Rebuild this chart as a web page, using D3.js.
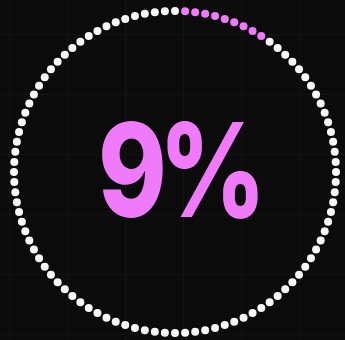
<!DOCTYPE html>
<html>
<head>
<meta charset="utf-8">
<script src="https://cdn.jsdelivr.net/npm/d3@7"></script>
<style>
  html, body { margin: 0; padding: 0; background: #0b0b0b; }
  svg { display: block; }
</style>
</head>
<body>
<svg id="chart" width="345" height="340"></svg>
<script>
// Progress ring: one dot per percent, filled dots show the share.
const percentValue = [9];
const dotCount = [100];
const labelText = ["9%"];

const width = 345, height = 340;
const cx = 175, cy = 172, ringRadius = 161, dotRadius = 4;
const fillColor = "#ef7bfa";
const emptyColor = "#f7f7f7";

const svg = d3.select("#chart");

// background
svg.append("rect").attr("width", width).attr("height", height).attr("fill", "#0b0b0b");

// faint background grid
const gridX = d3.range(9, width, 58);
const gridY = d3.range(34, height, 60);
const grid = svg.append("g").attr("stroke", "#131313").attr("stroke-width", 1);
grid.selectAll("line.v").data(gridX).join("line")
  .attr("class", "v")
  .attr("x1", d => d + 0.5).attr("x2", d => d + 0.5)
  .attr("y1", 0).attr("y2", height);
grid.selectAll("line.h").data(gridY).join("line")
  .attr("class", "h")
  .attr("y1", d => d + 0.5).attr("y2", d => d + 0.5)
  .attr("x1", 0).attr("x2", width);

// angle scale around the ring, starting at 12 o'clock going clockwise
const n = dotCount[0];
const angle = d3.scaleLinear().domain([0, n]).range([0, 2 * Math.PI]);
const dots = d3.range(n).map(i => ({
  i,
  filled: i >= 1 && i <= percentValue[0]
}));

svg.append("g").selectAll("circle").data(dots).join("circle")
  .attr("cx", d => cx + ringRadius * Math.sin(angle(d.i)))
  .attr("cy", d => cy - ringRadius * Math.cos(angle(d.i)))
  .attr("r", dotRadius)
  .attr("fill", d => d.filled ? fillColor : emptyColor);

// center label, slightly condensed
svg.append("text")
  .attr("transform", `translate(${cx + 3},217) scale(0.8,1)`)
  .attr("text-anchor", "middle")
  .attr("font-family", "Inter, 'Noto Sans', sans-serif")
  .attr("font-weight", 800)
  .attr("font-size", 130)
  .attr("letter-spacing", -10)
  .attr("fill", fillColor)
  .text(labelText[0]);
</script>
</body>
</html>
